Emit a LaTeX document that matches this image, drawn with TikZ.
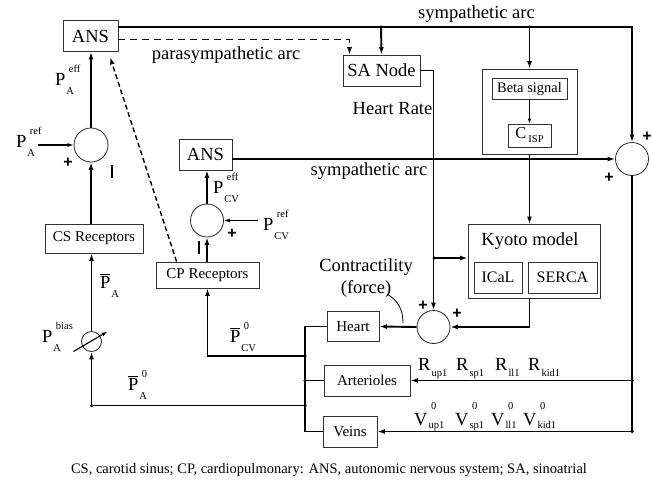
\documentclass[tikz,border=0pt]{standalone}
\usepackage{fontspec}
\setmainfont{Liberation Serif}
\newfontfamily\plusfont{Liberation Sans}
\usetikzlibrary{arrows.meta}

% letter with stacked subscript (lowered #1) and superscript
\def\suprise{13pt}
\newcommand{\plab}[4][9pt]{#2\kern1pt%
  \setbox0\hbox{\kern2.5pt\fontsize{10.5}{11}\selectfont #4}%
  \setbox2\hbox{\fontsize{10.5}{11}\selectfont #3}%
  \ifdim\wd0>\wd2 \rlap{\raisebox{-#1}{\box2}}\raisebox{\suprise}{\box0}%
  \else\rlap{\raisebox{\suprise}{\box0}}\raisebox{-#1}{\box2}\fi}
\newcommand{\pbar}{$\overline{\hbox{P}}$}

\begin{document}
\begin{tikzpicture}
[x=1pt, y=-1pt, >={Latex[length=7.5pt,width=5pt]},
box/.style={rectangle, draw=black!80, line width=0.8pt, inner sep=0pt, font=\fontsize{18.5}{20}\selectfont},
sbox/.style={box, font=\fontsize{15}{17}\selectfont},
sum/.style={circle, draw=black!85, line width=0.8pt, inner sep=0pt},
lab/.style={inner sep=0pt, font=\fontsize{18.5}{22}\selectfont},
plus/.style={inner sep=0pt, font=\plusfont\bfseries\fontsize{16}{16}\selectfont},
dot/.style={circle, fill=black, inner sep=0pt, minimum size=3.5pt},
wire/.style={line width=1.9pt},
fine/.style={line width=1.1pt, >={Latex[length=6pt,width=4pt]}}]

\useasboundingbox (0,0) rectangle (652,485);

% boxes
\node[box] (1) at (90.5,36) [minimum width=55pt, minimum height=31pt] {ANS};
\node[box] (2) at (381.5,70.5) [minimum width=77pt, minimum height=31pt] {SA Node};
\node[box] (3) at (529.5,111.5) [minimum width=95pt, minimum height=85pt] {};
\node[box] (4) at (529.5,89) [minimum width=75pt, minimum height=21pt, font=\fontsize{14.5}{16}\selectfont] {Beta signal};
\node[box] (5) at (529.5,135.5) [minimum width=43pt, minimum height=23pt, font=\fontsize{16.5}{18}\selectfont] {C\kern2pt\raisebox{-4pt}{\fontsize{10.5}{11}\selectfont ISP}};
\node[box] (6) at (205.5,154.5) [minimum width=53pt, minimum height=31pt] {ANS};
\node[box] (7) at (534,261.5) [minimum width=132pt, minimum height=74pt] {};
\node[lab] (7t) at (530,241) {Kyoto model};
\node[box] (8) at (498,277.5) [minimum width=48pt, minimum height=31pt, font=\fontsize{16}{18}\selectfont] {ICaL};
\node[box] (9) at (562.5,277.5) [minimum width=69pt, minimum height=31pt, font=\fontsize{16}{18}\selectfont] {SERCA};
\node[sbox] (10) at (94,238.5) [minimum width=98pt, minimum height=29pt] {CS Receptors};
\node[sbox] (11) at (207.5,275) [minimum width=103pt, minimum height=26pt] {CP Receptors};
\node[sbox] (12) at (353,326.5) [minimum width=52pt, minimum height=30pt] {Heart};
\node[sbox] (13) at (367,380.5) [minimum width=86pt, minimum height=31pt] {Arterioles};
\node[sbox] (14) at (350,431.5) [minimum width=54pt, minimum height=31pt] {Veins};

% summing points
\node[sum] (s1) at (91,145) [minimum size=34pt] {};
\node[sum] (s2) at (207,220.5) [minimum size=33pt] {};
\node[sum] (s3) at (632,159) [minimum size=33pt] {};
\node[sum] (s4) at (433.5,327) [minimum size=33pt] {};
\node[sum] (s5) at (91.5,341.5) [minimum size=20pt] {};

% junctions
\coordinate (t1) at (381,27);
\coordinate (t2) at (529.5,27);
\coordinate (t3) at (632,27);
\coordinate (h1) at (434,258);
\coordinate (b1) at (305,326.5);
\coordinate (b2) at (305,356);
\coordinate (b3) at (305,380.5);
\coordinate (b4) at (305,405.5);
\coordinate (b5) at (305,431.5);
\coordinate (a0) at (91.5,405.5);
\coordinate (r1) at (38,145);
\coordinate (r2) at (258,220.5);
\coordinate (d1) at (110,57);

% baroreflex loops
\draw[->, wire] (s1.north) -- (s1.north |- 1.south);
\draw[->, wire] (s1.south |- 10.north) -- (s1.south);
\draw[->, wire] (s5.north) -- (s5.north |- 10.south);
\draw[->, wire] (b4) -- (a0) -- (s5.south);
\draw[->, fine] ([shift={(-18,10)}]s5.center) -- ([shift={(16,-10)}]s5.center);
\draw[->, fine] (r1) -- (s1.west);
\draw[->, wire] (b2) -| (11.south);
\draw[->, wire] (s2.south |- 11.north) -- (s2.south);
\draw[->, wire] (s2.north) -- (s2.north |- 6.south);
\draw[->, fine] (r2) -- (s2.east);
\draw[->, dashed, line width=1.4pt, dash pattern=on 5pt off 3pt] ([xshift=21pt]11.north west) -- (d1);

% efferent arcs
\draw[->, wire] (1.east |- t1) -- (t3) -- (s3.north);
\draw[->, wire] (t1) -- (2.north);
\draw[->, wire] (t2) -- (3.north);
\draw[->, dashed, line width=1pt, dash pattern=on 7pt off 5pt] ([yshift=-3pt]1.east) -| ([xshift=-32pt]2.north);
\draw[->, wire] (6.east |- s3.west) -- (s3.west);
\draw[->, line width=0.8pt, >={Latex[length=5pt,width=3.5pt]}] (4.south) -- (5.north);
\draw[->, wire] (2.east) -| (s4.north);
\draw[->, wire] (h1) -- (h1 -| 7.west);
\draw[->, wire] (3.south) -- (3.south |- 7.north);
\draw[->, wire] (3.south |- 7.south) |- (s4.east);
\draw[->, wire] (s4.west) -- (12.east);

% circulation
\draw[wire] (12.west) -- (b1) -- (b5) -- (14.west);
\draw[wire] (b3) -- (13.west);
\draw[->, wire] (s3.south) -- (s3.south |- 14.east) -- (14.east);
\draw[->, wire] (s3.south |- 13.east) -- (13.east);

\node[dot] at (t1) {};
\node[dot] at (t2) {};
\node[dot] at (h1) {};
\node[dot] at (b2) {};
\node[dot] at (b3) {};
\node[dot] at (b4) {};
\node[dot] at (a0) {};
\node[dot] at (s3.south |- 13.east) {};
\node[dot] at (s3.south |- 14.east) {};

% labels
\node[lab] (l1) at (476.5,14) {sympathetic arc};
\node[lab] (l2) at (226,55) {parasympathetic arc};
\node[lab] (l3) at (392.5,109) {Heart Rate};
\node[lab] (l4) at (369,171) {sympathetic arc};
\node[lab, align=center, font=\fontsize{18.5}{22}\selectfont] (l5) at (366,278) {Contractility\\(force)};
\draw[line width=0.8pt] (387,294) .. controls (399,301) and (403,311) .. (403,323);

\node[lab, anchor=base west] (p1) at (55,85) {\plab{P}{A}{eff}};
\node[lab, anchor=base west] (p2) at (16,147) {\plab{P}{A}{ref}};
\node[lab, anchor=base west] (p3) at (213,193) {\plab{P}{CV}{eff}};
\node[lab, anchor=base west] (p4) at (263,230) {\plab{P}{CV}{ref}};
\node[lab, anchor=base west] (p5) at (42,342) {\plab{P}{A}{bias}};
\node[lab, anchor=base west] (p6) at (100,288) {\plab{\pbar}{A}{}};
\node[lab, anchor=base west] (p7) at (230,342) {\plab{\pbar}{CV}{0}};
\node[lab, anchor=base west] (p8) at (128,390) {\plab{\pbar}{A}{0}};

\foreach \x/\s in {418/up1, 456/sp1, 495/ll1, 528/kid1}
  \node[lab, anchor=base west] (R\s) at (\x,370) {\plab[6pt]{R}{\s}{}};
\foreach \x/\s in {414/up1, 455/sp1, 491/ll1, 523/kid1}
  \node[lab, anchor=base west] (V\s) at (\x,425) {\def\suprise{16pt}\plab[3pt]{V}{\s}{0}};

% signs
\node[plus] (q1) at (68,163) {+};
\node[plus] (q2) at (232,234) {+};
\node[plus] (q3) at (647,137) {+};
\node[plus] (q4) at (609,178) {+};
\node[plus] (q5) at (423,306) {+};
\node[plus] (q6) at (457,314) {+};
\draw[line width=1.5pt] (112,165) -- (112,178);
\draw[line width=1.5pt] (199,241) -- (199,254);

\node[anchor=base, inner sep=0pt, font=\fontsize{14.5}{16}\selectfont] (cap) at (329,473) {CS, carotid sinus; CP, cardiopulmonary: ANS, autonomic nervous system; SA, sinoatrial};
\end{tikzpicture}
\end{document}
